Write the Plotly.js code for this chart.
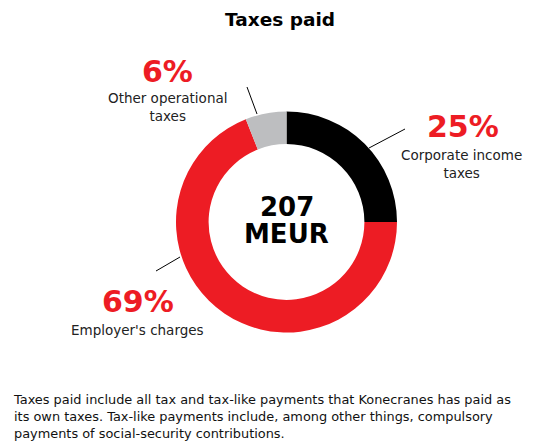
<!DOCTYPE html>
<html>
<head>
<meta charset="utf-8">
<script src="https://cdn.plot.ly/plotly-3.0.1.min.js"></script>
<style>html,body{margin:0;padding:0;background:#fff;}#chart{width:553px;height:445px;}</style>
</head>
<body>
<div id="chart"></div>
<script>
const categories = ["Corporate income taxes", "Employer's charges", "Other operational taxes"];
const labelTexts = ["Corporate income<br>taxes", "Employer's charges", "Other operational<br>taxes"];
const shares = [25, 69, 6];
const colors = ["#000000", "#ED1C24", "#BDBEC0"];
const totalLines = ["207", "MEUR"];
const titleText = "Taxes paid";
const noteText = "Taxes paid include all tax and tax-like payments that Konecranes has paid as<br>its own taxes. Tax-like payments include, among other things, compulsory<br>payments of social-security contributions.";

const W = 553, H = 445;
const px = x => x / W;
const py = y => 1 - y / H;
const FONT = "DejaVu Sans, Verdana, sans-serif";

// label placements (pixel centres): [pct x, pct y, label x, label y]
const pos = [
  [463, 126, 461, 164],
  [138, 301, 137, 330],
  [167, 71, 167, 107]
];
const lines = [
  [369, 148, 405, 129],
  [180, 257, 156, 271],
  [257, 114, 247, 87]
];
const totalY = [207, 234];

const annotations = [];
shares.forEach((v, i) => {
  annotations.push({xref: "paper", yref: "paper", x: px(pos[i][0]), y: py(pos[i][1]),
    text: "<b>" + v + "%</b>", showarrow: false, xanchor: "center", yanchor: "middle",
    font: {family: FONT, size: 30, color: "#ED1C24"}});
  annotations.push({xref: "paper", yref: "paper", x: px(pos[i][2]), y: py(pos[i][3]),
    text: labelTexts[i], showarrow: false, xanchor: "center", yanchor: "middle",
    font: {family: FONT, size: 13.5, color: "#222"}});
});
totalLines.forEach((t, i) => {
  annotations.push({xref: "paper", yref: "paper", x: px(286.5), y: py(totalY[i]),
    text: "<b>" + t + "</b>", showarrow: false, xanchor: "center", yanchor: "middle",
    font: {family: FONT, size: 26, color: "#000"}});
});
annotations.push({xref: "paper", yref: "paper", x: px(11), y: py(390),
  text: noteText, showarrow: false, xanchor: "left", yanchor: "top", align: "left",
  font: {family: FONT, size: 12.9, color: "#111"}});

const shapes = lines.map(l => ({type: "line", xref: "paper", yref: "paper",
  x0: px(l[0]), y0: py(l[1]), x1: px(l[2]), y1: py(l[3]),
  line: {color: "#000", width: 1}}));

const data = [{
  type: "pie",
  labels: categories,
  values: shares,
  marker: {colors: colors, line: {width: 0}},
  hole: 0.705,
  sort: false,
  direction: "clockwise",
  rotation: 0,
  textinfo: "none",
  hoverinfo: "label+percent",
  showlegend: false,
  domain: {x: [px(176), px(397)], y: [py(332.5), py(111.5)]}
}];

const layout = {
  width: W, height: H,
  margin: {l: 0, r: 0, t: 0, b: 0},
  paper_bgcolor: "#fff",
  showlegend: false,
  title: {text: "<b>" + titleText + "</b>", x: px(280), xanchor: "center", y: py(20), yanchor: "middle",
    font: {family: FONT, size: 18.5, color: "#000"}},
  annotations: annotations,
  shapes: shapes
};

Plotly.newPlot("chart", data, layout, {displayModeBar: false, staticPlot: true});
</script>
</body>
</html>
